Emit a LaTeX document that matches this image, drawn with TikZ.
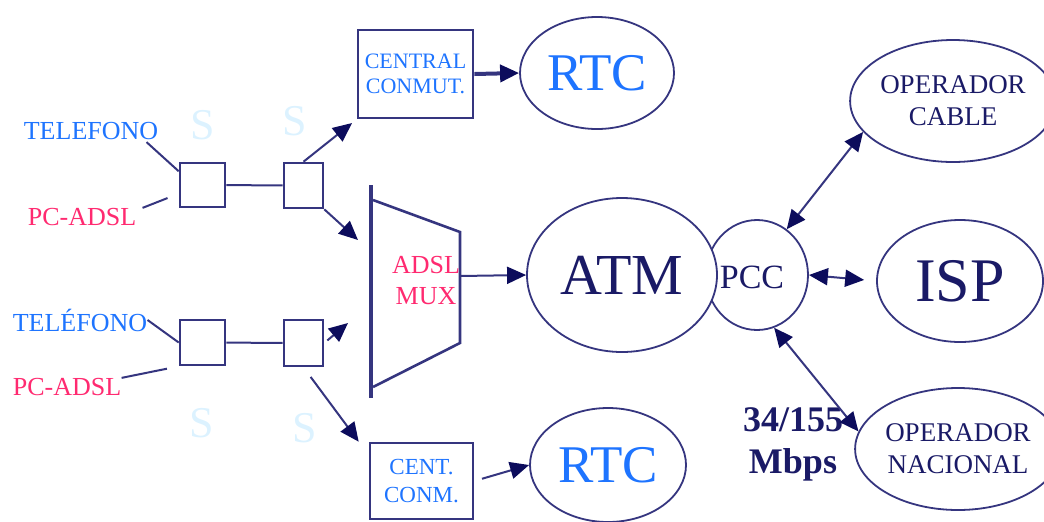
\documentclass[tikz,border=0pt]{standalone}
\usepackage{fontspec}
\setmainfont{Liberation Serif}
\usetikzlibrary{arrows.meta,positioning,shapes.geometric,calc}
\definecolor{trazo}{HTML}{35357F}
\definecolor{punta}{HTML}{0C0C5C}
\definecolor{azul}{HTML}{1E74FF}
\definecolor{rosa}{HTML}{FF2A70}
\definecolor{oscuro}{HTML}{1A1A66}
\definecolor{tenue}{HTML}{DCF2FF}

\begin{document}
\begin{tikzpicture}[x=0.5pt, y=-0.5pt,
  caja/.style={draw=trazo, line width=1.3pt, inner sep=0pt},
  elipse/.style={draw=trazo, ellipse, line width=0.9pt, inner sep=0pt, fill=white},
  etq/.style={font=\fontsize{13}{15}\selectfont, inner sep=0pt},
  ese/.style={font=\fontsize{22}{24}\selectfont, text=tenue, inner sep=0pt},
  lin/.style={draw=trazo, line width=1pt},
  arr/.style={lin, -{Triangle[length=9.5pt,width=8.5pt,color=punta]}},
  darr/.style={lin, {Triangle[length=9.5pt,width=8.5pt,color=punta]}-{Triangle[length=9.5pt,width=8.5pt,color=punta]}},
]
  \useasboundingbox (0,0) rectangle (1044,521);

  \node[etq, text=azul] (tel1) at (91,131) {TELEFONO};
  \node[etq, text=rosa] (pc1) at (82,217) {PC-ADSL};
  \node[etq, text=azul] (tel2) at (80,320) {TELÉFONO};
  \node[etq, text=rosa] (pc2) at (67,387) {PC-ADSL};

  \node[caja, minimum width=22.5pt, minimum height=22pt] (a) at (202.5,185) {};
  \node[caja, minimum width=19.5pt, minimum height=22.5pt] (b) at (303.5,185.5) {};
  \node[caja, minimum width=22.5pt, minimum height=22.5pt] (c) at (202.5,342.5) {};
  \node[caja, minimum width=19.5pt, minimum height=23pt] (d) at (303.5,343) {};

  \node[ese] (s1) at (203,125) {S};
  \node[ese] (s2) at (295,121) {S};
  \node[ese] (s3) at (202,423) {S};
  \node[ese] (s4) at (305,428) {S};

  \node[caja, minimum width=57.5pt, minimum height=44pt, align=center,
        text=azul, font=\fontsize{11}{12.5}\selectfont] (cc) at (415.5,74) {CENTRAL\\CONMUT.};
  \node[caja, minimum width=51.5pt, minimum height=38pt, align=center,
        text=azul, font=\fontsize{11.5}{14}\selectfont] (cent) at (421.5,481) {CENT.\\CONM.};

  \draw[trazo, line width=1.6pt] (371,185) -- (371,398);
  \draw[trazo, line width=1.3pt] (373,200) -- (460,232) -- (460,343) -- (373,387);
  \node[align=center, text=rosa, font=\fontsize{13}{15.5}\selectfont] (mux) at (426,281) {ADSL\\MUX};
  \coordinate (muxr) at (460,276);
  \coordinate (muxa) at (358,240);
  \coordinate (muxb) at (348,323);

  \node[elipse, minimum width=77pt, minimum height=56pt, text=azul,
        font=\fontsize{26.5}{28}\selectfont] (rtc1) at (597,73) {RTC};
  \node[elipse, minimum width=78pt, minimum height=57pt, text=azul,
        font=\fontsize{26.5}{28}\selectfont] (rtc2) at (608,465) {RTC};

  \node[elipse, minimum width=51pt, minimum height=55pt] (pcc) at (757,275) {};
  \node[elipse, minimum width=95pt, minimum height=77pt, text=oscuro,
        font=\fontsize{29}{30}\selectfont] (atm) at (622,275) {ATM};
  \node[text=oscuro, font=\fontsize{17}{18}\selectfont, inner sep=0pt] (pcct) at (752,277) {PCC};

  \node[elipse, minimum width=89pt, minimum height=61pt, align=center, text=oscuro,
        font=\fontsize{13.5}{16}\selectfont] (opc) at (953,101) {OPERADOR\\CABLE};
  \node[elipse, minimum width=83pt, minimum height=61pt, text=oscuro,
        font=\fontsize{31}{32}\selectfont] (isp) at (960,281) {ISP};
  \node[elipse, minimum width=84pt, minimum height=61pt, align=center, text=oscuro,
        font=\fontsize{13.5}{16}\selectfont] (opn) at (958,449) {OPERADOR\\NACIONAL};

  \node[align=center, text=oscuro, font=\bfseries\fontsize{18}{21}\selectfont] (vel) at (793,444) {34/155\\Mbps};

  \draw[lin] ($(tel1.south east)+(-12,2)$) -- (a.150);
  \draw[lin, shorten >=6pt] ($(pc1.north east)+(6,0)$) -- (a.200);
  \draw[lin] (tel2.east) -- (c.west);
  \draw[lin, shorten >=6pt] (pc2.north east) -- (c.south west);
  \draw[lin] (a) -- (b);
  \draw[lin] (c) -- (d);

  \draw[arr, shorten >=3pt] (b.north) -- (cc.south west);
  \draw[arr] (b.south east) -- (muxa);
  \draw[arr, shorten <=2pt] (d.east) -- (muxb);
  \draw[arr, shorten <=6pt] (d.south) -- ($(cent.north west)+(-10,0)$);
  \draw[arr, line width=2pt] (cc.east) -- (rtc1.west);
  \draw[arr, shorten <=4pt] (cent.east) -- (rtc2.west);
  \draw[arr] (muxr) -- (atm.west);

  \draw[darr] (pcc.57) -- (opc.199);
  \draw[darr, shorten >=6pt] (pcc.east) -- (isp.west);
  \draw[darr] (pcc.-72) -- (opn.170);
\end{tikzpicture}
\end{document}
